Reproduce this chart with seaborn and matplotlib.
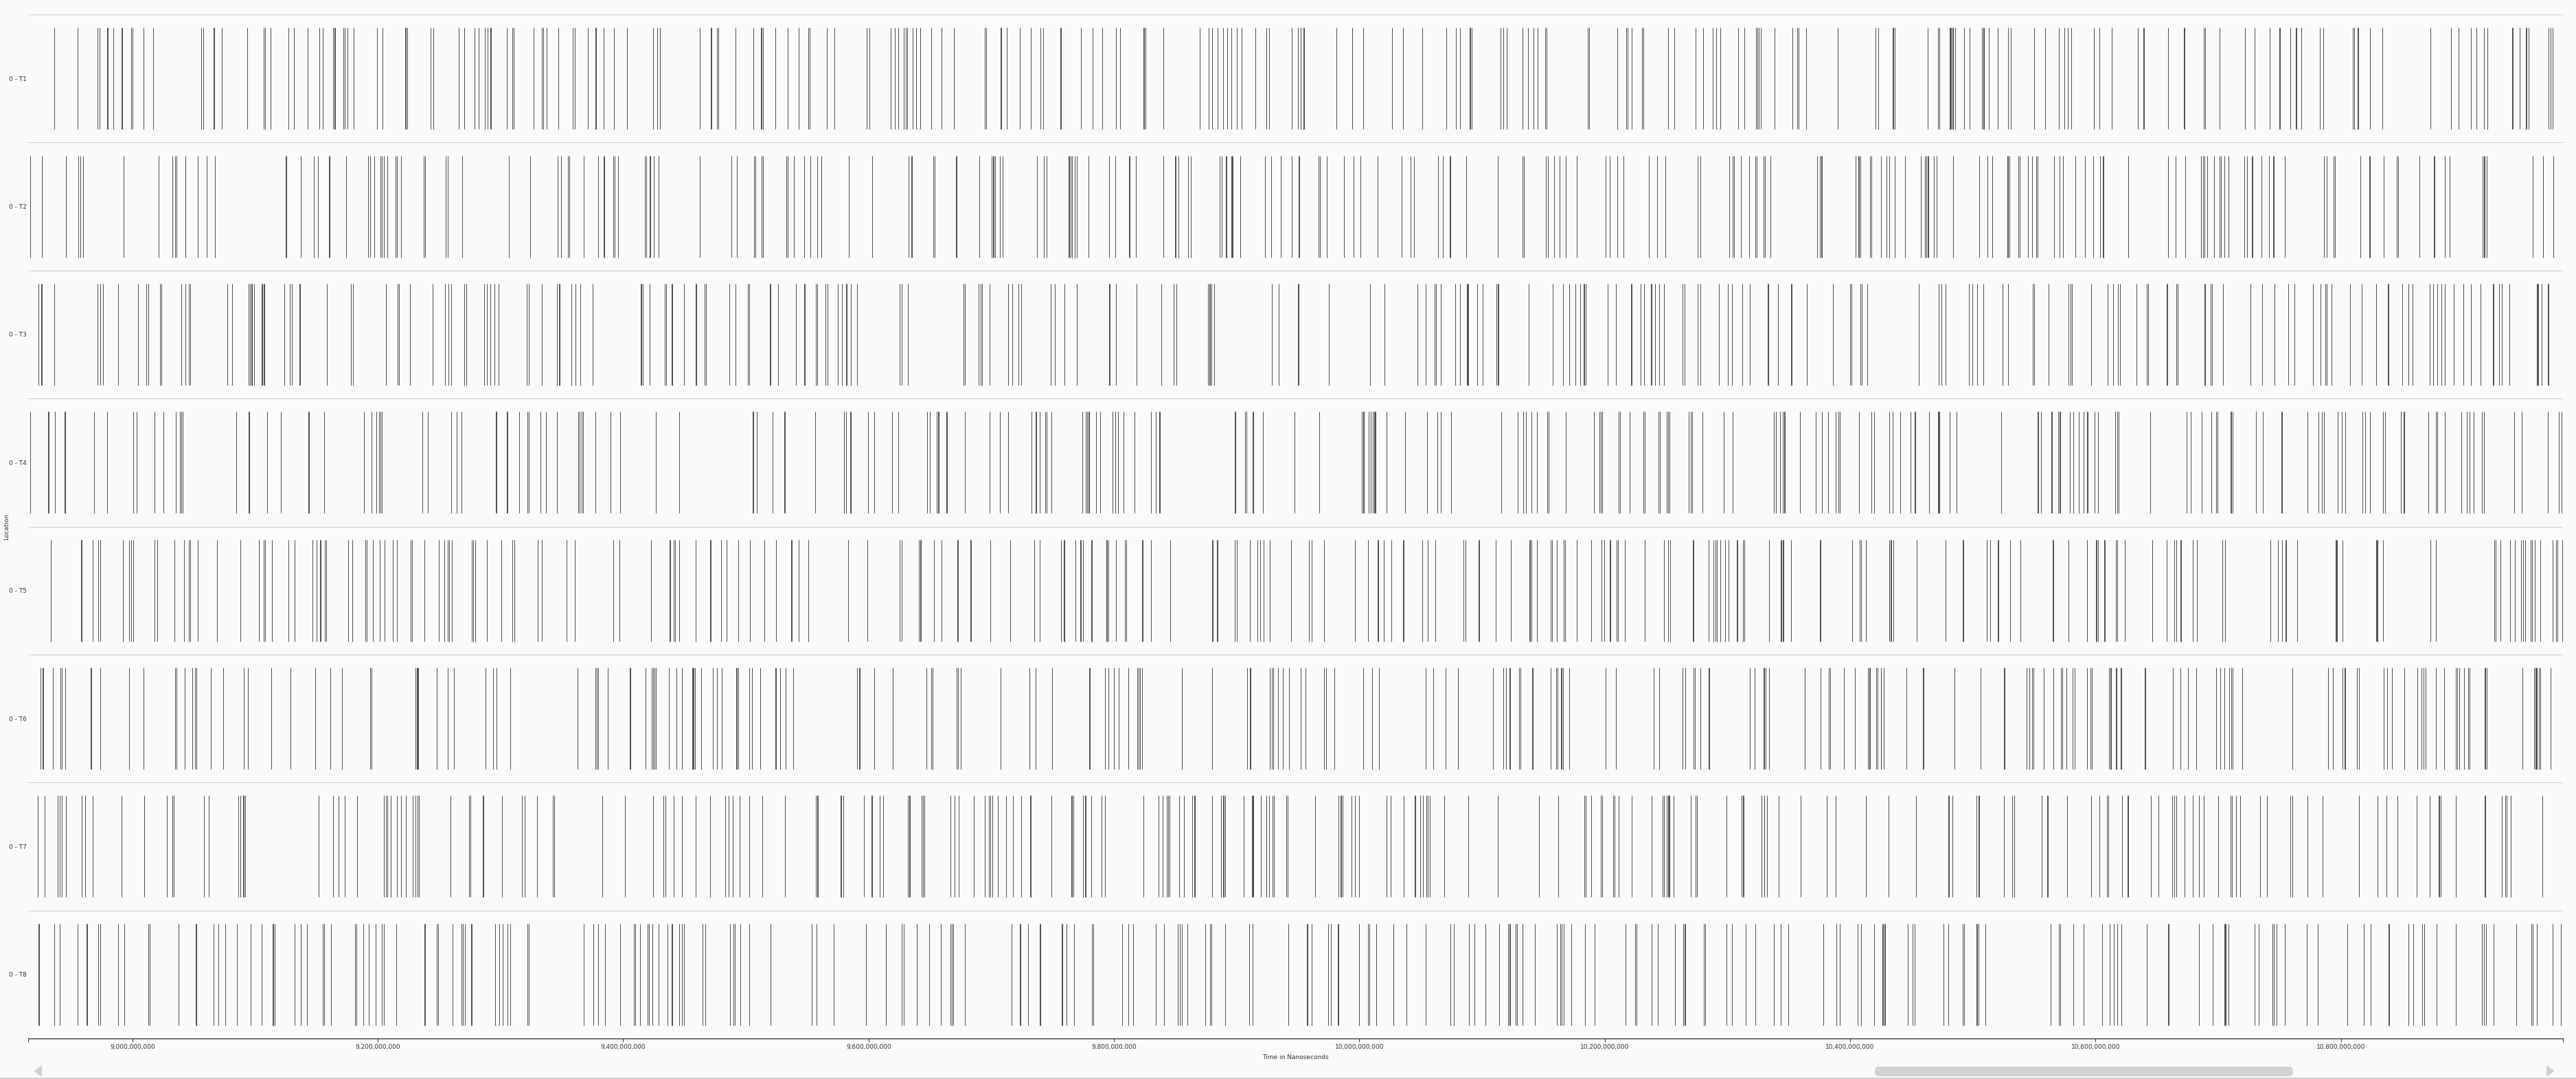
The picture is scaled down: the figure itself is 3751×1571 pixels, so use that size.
import numpy as np
import pandas as pd
import matplotlib
matplotlib.use("Agg")
import matplotlib.pyplot as plt
from matplotlib.patches import FancyBboxPatch, Polygon
from matplotlib.ticker import FuncFormatter
import seaborn as sns

# ---------------- data (event times, in millions of nanoseconds) ----------------
locations = ["0 - T1", "0 - T2", "0 - T3", "0 - T4", "0 - T5", "0 - T6", "0 - T7", "0 - T8"]

t1 = [
8936.5, 8955.5, 8971.8, 8973.2, 8979.4, 8980.2, 8984.5, 8991.1, 8991.9, 8999.0, 9000.0, 9008.8, 9017.0, 9056.2, 9058.0, 9066.1, 9066.9, 9073.0, 9093.8, 9107.1, 9107.9, 9112.8, 9127.2, 9131.8, 9143.0, 9152.5, 9155.2, 9163.6, 9164.4, 9165.2, 9171.8, 9172.8, 9175.5, 9180.5, 9199.5, 9204.0, 9222.2, 9223.0, 9223.8, 9243.2, 9245.0, 9265.8, 9270.5, 9279.0, 9282.0, 9287.2, 9289.5, 9291.6, 9292.4, 9305.2,
9309.5, 9311.0, 9326.8, 9333.9, 9334.7, 9337.5, 9347.0, 9358.8, 9360.8, 9371.0, 9377.1, 9377.9, 9384.0, 9392.2, 9403.0, 9424.2, 9427.5, 9429.8, 9462.2, 9471.4, 9472.2, 9476.5, 9477.8, 9491.5, 9506.0, 9512.1, 9512.9, 9513.8, 9524.0, 9534.0, 9543.0, 9551.1, 9551.9, 9566.0, 9572.0, 9598.5, 9600.5, 9618.0, 9621.5, 9624.0, 9628.8, 9630.6, 9631.4, 9635.8, 9638.5, 9642.0, 9651.0, 9659.5, 9669.5, 9694.9, 9695.7,
9707.4, 9708.2, 9712.5, 9723.2, 9732.2, 9740.0, 9742.2, 9756.1, 9756.9, 9773.2, 9782.5, 9790.5, 9801.8, 9804.8, 9823.9, 9824.7, 9825.5, 9840.0, 9870.0, 9877.2, 9879.8, 9884.5, 9888.8, 9892.5, 9895.5, 9900.0, 9904.2, 9915.2, 9924.2, 9926.2, 9944.8, 9950.0, 9952.2, 9954.4, 9955.2, 9981.5, 9994.2, 10003.2, 10026.8, 10035.8, 10051.5, 10071.0, 10078.8, 10081.8,
10089.7, 10090.5, 10091.3, 10115.2, 10117.5, 10120.2, 10133.2, 10137.2, 10141.8, 10145.5, 10151.2, 10152.8, 10186.4, 10187.2, 10210.5, 10217.6, 10218.4, 10221.8, 10230.6, 10231.4, 10251.5, 10256.5, 10274.2, 10280.0, 10287.8, 10290.8, 10294.0, 10309.0, 10314.0, 10323.2, 10324.6, 10325.4, 10327.2, 10338.2, 10352.8, 10357.1, 10357.9, 10364.0, 10389.8, 10420.5, 10422.8, 10434.7, 10435.5, 10436.3, 10463.0, 10471.9, 10472.7,
10481.0, 10481.7, 10482.5, 10483.2, 10484.2, 10485.8, 10492.8, 10497.2, 10507.5, 10508.6, 10509.4, 10513.0, 10520.2, 10528.8, 10530.8, 10550.0, 10559.0, 10570.0, 10574.8, 10577.5, 10580.0, 10598.5, 10603.0, 10613.2, 10634.5, 10638.8, 10639.8, 10659.0, 10671.9, 10672.7, 10688.0, 10689.2, 10701.0, 10721.8, 10729.8, 10742.0, 10749.6, 10750.4, 10758.8, 10763.1, 10763.9, 10767.8, 10782.8, 10785.5, 10809.5, 10811.0, 10813.4, 10814.2, 10823.8, 10833.8,
10873.2, 10889.5, 10895.8, 10905.8, 10910.2, 10916.5, 10919.2, 10939.6, 10940.4, 10946.0, 10950.6, 10951.4, 10953.0, 10969.2, 10970.8, 10972.5]

t2 = [
8916.8, 8926.2, 8946.0, 8956.0, 8957.8, 8960.0, 8993.0, 9021.5, 9032.8, 9034.9, 9035.7, 9043.2, 9053.0, 9060.8, 9067.0, 9124.9, 9125.7, 9137.2, 9148.0, 9151.0, 9160.0, 9160.8, 9174.0, 9191.8, 9194.0, 9197.0, 9202.4, 9203.2, 9204.8, 9208.0, 9214.5, 9215.8, 9219.0, 9237.2, 9238.8, 9255.5, 9257.2, 9268.5,
9306.8, 9324.0, 9346.5, 9349.2, 9355.1, 9355.9, 9367.8, 9379.5, 9383.9, 9384.7, 9391.8, 9392.8, 9395.8, 9417.9, 9418.7, 9421.5, 9422.2, 9425.2, 9429.0, 9462.2, 9488.0, 9492.5, 9506.9, 9507.7, 9512.8, 9514.2, 9533.1, 9533.9, 9539.0, 9547.5, 9552.5, 9558.0, 9561.5, 9583.8, 9602.8, 9632.5, 9634.6, 9635.4, 9652.8, 9653.8, 9671.1, 9671.9, 9690.5,
9700.4, 9701.2, 9702.1, 9702.9, 9707.0, 9709.0, 9737.2, 9743.0, 9745.0, 9762.9, 9763.7, 9764.8, 9765.8, 9768.0, 9769.8, 9779.2, 9796.0, 9801.0, 9812.1, 9812.9, 9818.0, 9840.2, 9849.6, 9850.4, 9852.5, 9860.5, 9862.8, 9886.2, 9887.8, 9891.1, 9891.9, 9895.5, 9896.2, 9897.0, 9903.0, 9923.2, 9928.2, 9936.0, 9945.0, 9950.4, 9951.2, 9966.5, 9967.8, 9973.5, 9987.5, 9995.5, 10000.8, 10015.0, 10034.5, 10042.0, 10044.5, 10064.2, 10068.2, 10073.6, 10074.4, 10087.2,
10113.0, 10133.1, 10133.9, 10152.2, 10153.5, 10158.5, 10163.0, 10168.0, 10177.0, 10201.0, 10204.2, 10210.5, 10215.0, 10235.8, 10242.5, 10249.2, 10276.0, 10278.2, 10301.2, 10304.4, 10305.2, 10310.8, 10317.8, 10322.9, 10323.7, 10329.2, 10330.5, 10335.0, 10373.0, 10375.5, 10376.3, 10377.1, 10404.2, 10406.7, 10407.5, 10408.3, 10416.5, 10417.5, 10425.0, 10429.8, 10431.8, 10436.2, 10444.8, 10457.8, 10460.8, 10462.2, 10463.0, 10463.8, 10468.2, 10470.5,
10484.2, 10505.0, 10512.2, 10515.8, 10528.2, 10529.0, 10529.8, 10537.4, 10538.2, 10544.8, 10548.2, 10551.8, 10552.8, 10566.0, 10570.5, 10573.5, 10583.5, 10591.2, 10598.0, 10603.8, 10605.9, 10606.7, 10626.8, 10659.0, 10665.2, 10673.0, 10686.0, 10687.9, 10688.7, 10691.0, 10696.8, 10701.2, 10702.2, 10705.0, 10708.2, 10721.2, 10723.5, 10727.4, 10728.2, 10735.2, 10741.5, 10744.6, 10745.4, 10754.2, 10786.2, 10788.2, 10794.1, 10794.9, 10816.0, 10823.1, 10823.9, 10835.0, 10845.5, 10846.5, 10864.0,
10875.5, 10876.2, 10884.5, 10888.5, 10915.6, 10916.4, 10917.2, 10919.0, 10956.2, 10964.5, 10973.0]

t3 = [
8923.5, 8925.4, 8926.2, 8936.5, 8971.8, 8973.8, 8976.0, 8988.5, 9004.8, 9011.0, 9013.0, 9022.6, 9023.4, 9040.0, 9043.2, 9046.2, 9047.2, 9077.5, 9081.0, 9094.9, 9095.7, 9096.9, 9097.7, 9099.2, 9105.2, 9106.1, 9106.9, 9107.7, 9124.0, 9128.0, 9130.0, 9136.1, 9136.9, 9158.5, 9177.8, 9180.0, 9206.5, 9216.0, 9217.2, 9226.0, 9244.5, 9254.8, 9257.8, 9260.0, 9270.5, 9272.0, 9286.5, 9289.0, 9291.8, 9295.2, 9298.2,
9321.2, 9323.2, 9333.5, 9346.0, 9347.4, 9348.2, 9357.5, 9361.2, 9364.8, 9375.0, 9414.1, 9414.9, 9416.2, 9421.5, 9434.1, 9434.9, 9439.4, 9440.2, 9449.5, 9458.8, 9459.5, 9466.5, 9467.5, 9486.5, 9491.5, 9501.8, 9503.0, 9519.4, 9520.2, 9526.2, 9540.8, 9547.4, 9548.2, 9557.2, 9558.0, 9565.0, 9566.5, 9574.8, 9578.2, 9581.4, 9582.2, 9585.5, 9590.5, 9625.5, 9627.0, 9632.0, 9677.5, 9678.5, 9689.8, 9691.4, 9692.2,
9698.8, 9713.8, 9717.2, 9722.2, 9724.2, 9748.5, 9751.8, 9759.8, 9769.8, 9795.9, 9796.7, 9801.8, 9818.5, 9838.8, 9848.8, 9850.8, 9876.5, 9877.5, 9878.4, 9879.2, 9881.8, 9928.8, 9934.2, 9949.9, 9950.7, 9975.2, 10008.8, 10020.5, 10047.5, 10054.2, 10061.4, 10062.2, 10066.2, 10078.2, 10082.2, 10087.4, 10088.1, 10088.8,
10096.2, 10100.8, 10111.5, 10112.6, 10113.4, 10138.2, 10157.5, 10165.8, 10170.8, 10176.2, 10180.2, 10182.9, 10183.6, 10184.5, 10202.2, 10209.0, 10221.5, 10222.2, 10229.0, 10231.8, 10237.4, 10238.2, 10240.8, 10244.2, 10248.5, 10263.2, 10265.0, 10275.5, 10277.8, 10293.0, 10300.2, 10303.5, 10312.0, 10318.2, 10332.6, 10333.4, 10341.0, 10351.6, 10352.4, 10364.5, 10385.8, 10400.1, 10400.9, 10408.6, 10409.4, 10414.2, 10455.8, 10472.0, 10474.2, 10478.0,
10496.8, 10499.5, 10503.5, 10508.5, 10524.0, 10528.5, 10548.8, 10549.8, 10561.8, 10578.0, 10579.9, 10580.7, 10596.2, 10609.8, 10614.2, 10618.2, 10619.8, 10633.2, 10642.0, 10642.8, 10657.9, 10658.7, 10666.1, 10666.9, 10688.6, 10689.4, 10694.1, 10694.9, 10704.0, 10726.2, 10735.8, 10746.0, 10757.0, 10762.0, 10777.0, 10783.5, 10787.2, 10788.5, 10792.2, 10807.5, 10816.8, 10828.5, 10838.1, 10838.9, 10850.0, 10855.0, 10858.5, 10872.2,
10875.2, 10878.5, 10882.2, 10884.8, 10891.8, 10899.8, 10906.0, 10913.8, 10923.9, 10924.7, 10929.2, 10931.0, 10937.2, 10959.5, 10960.3, 10961.1, 10963.5, 10968.6, 10969.4]

t4 = [
8916.8, 8931.1, 8931.9, 8937.0, 8944.6, 8945.4, 8968.5, 8979.5, 9000.8, 9003.5, 9017.8, 9025.5, 9035.5, 9038.5, 9039.9, 9040.7, 9084.8, 9094.4, 9095.2, 9110.0, 9121.2, 9143.1, 9143.9, 9156.2, 9188.5, 9194.8, 9199.0, 9201.1, 9201.9, 9203.0, 9236.2, 9241.0, 9260.0, 9264.5, 9268.0, 9296.0, 9297.0, 9304.9, 9305.7,
9315.0, 9322.1, 9322.9, 9332.5, 9336.8, 9345.8, 9363.2, 9364.2, 9366.4, 9367.2, 9377.2, 9389.5, 9397.5, 9426.5, 9445.5, 9505.4, 9506.2, 9508.8, 9521.8, 9531.1, 9531.9, 9556.5, 9580.0, 9581.8, 9584.9, 9585.7, 9599.5, 9604.5, 9619.0, 9624.2, 9647.8, 9650.0, 9655.8, 9656.4, 9657.2, 9663.4, 9664.2, 9678.5,
9698.8, 9707.0, 9713.8, 9732.8, 9736.1, 9736.9, 9739.5, 9744.0, 9745.2, 9748.8, 9774.2, 9777.0, 9778.2, 9779.1, 9779.9, 9785.5, 9788.8, 9798.8, 9801.2, 9803.5, 9807.8, 9816.8, 9830.2, 9834.2, 9836.9, 9837.7, 9898.4, 9899.2, 9906.9, 9907.7, 9912.9, 9913.7, 9921.5, 9947.2, 9967.5, 10002.2, 10003.0, 10003.8, 10007.8, 10009.2, 10011.0, 10011.9, 10012.7, 10013.4, 10022.2, 10037.5, 10055.2, 10063.5, 10066.5, 10074.8,
10115.5, 10128.8, 10133.8, 10135.8, 10140.5, 10145.0, 10153.4, 10154.2, 10168.5, 10191.0, 10195.8, 10196.8, 10198.0, 10211.6, 10212.4, 10220.5, 10231.6, 10232.4, 10243.9, 10244.7, 10250.5, 10251.8, 10253.0, 10268.5, 10270.0, 10271.0, 10279.5, 10296.8, 10304.5, 10337.8, 10339.8, 10342.8, 10345.2, 10346.0, 10346.8, 10359.0, 10372.2, 10377.0, 10382.0, 10388.5, 10390.6, 10391.4, 10407.0, 10417.2, 10419.5, 10431.8, 10434.5, 10441.0, 10449.0, 10452.4, 10453.2, 10464.2, 10471.6, 10472.4, 10473.0,
10481.2, 10486.5, 10523.0, 10552.6, 10553.4, 10555.8, 10563.9, 10564.7, 10569.8, 10570.5, 10571.2, 10579.0, 10581.8, 10586.2, 10590.5, 10592.9, 10593.7, 10599.2, 10602.0, 10616.0, 10617.9, 10618.7, 10644.5, 10674.2, 10677.5, 10686.5, 10694.5, 10698.5, 10699.5, 10710.1, 10710.9, 10712.0, 10730.8, 10736.2, 10751.4, 10752.2, 10772.8, 10781.8, 10784.5, 10786.0, 10797.5, 10800.8, 10803.5, 10817.8, 10820.0, 10823.8, 10834.5, 10835.8, 10849.0, 10851.1, 10851.9, 10871.5,
10877.6, 10878.4, 10885.0, 10898.0, 10902.5, 10905.0, 10908.0, 10915.2, 10916.5, 10941.5, 10947.2, 10968.5, 10977.5, 10979.8]

t5 = [
8933.5, 8958.1, 8958.9, 8967.8, 8972.2, 8974.0, 8992.5, 8997.2, 8998.8, 9000.8, 9018.2, 9020.0, 9034.5, 9042.2, 9046.1, 9046.9, 9053.0, 9069.2, 9088.2, 9103.2, 9107.1, 9107.9, 9113.5, 9127.2, 9132.0, 9147.0, 9150.2, 9152.9, 9153.7, 9156.9, 9157.7, 9176.0, 9179.2, 9189.9, 9190.7, 9196.0, 9201.5, 9205.5, 9212.5, 9215.5, 9226.8, 9227.8, 9238.2, 9249.8, 9254.0, 9257.1, 9257.9, 9260.2, 9276.5, 9277.8, 9279.2, 9288.8, 9300.8,
9309.5, 9311.5, 9330.2, 9333.5, 9353.8, 9360.5, 9391.8, 9396.8, 9422.5, 9437.6, 9438.4, 9441.2, 9442.2, 9445.5, 9459.0, 9470.6, 9471.4, 9479.8, 9484.2, 9493.8, 9503.2, 9515.0, 9524.5, 9536.6, 9537.4, 9543.0, 9550.8, 9583.2, 9599.0, 9625.5, 9626.8, 9641.2, 9642.0, 9642.8, 9653.2, 9659.5, 9672.1, 9672.9, 9682.9, 9683.7,
9699.2, 9715.5, 9735.0, 9739.5, 9757.0, 9758.9, 9759.7, 9768.8, 9772.4, 9773.2, 9774.8, 9781.4, 9782.2, 9793.6, 9794.4, 9795.2, 9801.8, 9808.8, 9810.0, 9822.9, 9823.7, 9830.2, 9846.0, 9879.8, 9880.8, 9883.9, 9884.7, 9898.5, 9900.0, 9911.0, 9917.0, 9919.0, 9922.0, 9927.0, 9944.5, 9959.0, 9961.2, 9971.5, 9996.5, 10007.2, 10014.9, 10015.7, 10020.2, 10026.2, 10035.6, 10036.4, 10051.5, 10055.5, 10062.0, 10085.0, 10086.8,
10096.9, 10097.7, 10111.0, 10123.2, 10138.5, 10139.4, 10140.2, 10145.0, 10156.1, 10156.9, 10161.2, 10166.5, 10167.5, 10177.0, 10188.8, 10197.2, 10199.5, 10204.1, 10204.9, 10209.9, 10210.7, 10216.2, 10232.5, 10248.5, 10251.5, 10253.2, 10271.6, 10272.4, 10284.5, 10288.5, 10290.4, 10291.2, 10294.2, 10298.2, 10300.8, 10307.4, 10308.2, 10312.9, 10313.7, 10333.8, 10343.2, 10344.1, 10344.9, 10345.6, 10351.8, 10375.1, 10375.9, 10401.5, 10408.1, 10408.9, 10412.8, 10432.0, 10432.8, 10433.6, 10435.2, 10454.2, 10477.8,
10491.6, 10492.4, 10511.2, 10514.0, 10520.1, 10520.9, 10530.2, 10538.8, 10564.9, 10565.7, 10578.0, 10593.0, 10600.1, 10600.9, 10602.2, 10606.9, 10607.7, 10616.5, 10618.0, 10623.8, 10646.2, 10658.0, 10664.2, 10666.0, 10669.1, 10669.9, 10679.2, 10682.5, 10703.2, 10705.5, 10742.5, 10748.8, 10751.8, 10754.9, 10755.7, 10764.2, 10795.5, 10796.3, 10797.1, 10801.2, 10828.5, 10829.3, 10830.1, 10834.2,
10873.2, 10877.2, 10924.8, 10926.0, 10929.8, 10937.8, 10942.0, 10947.0, 10948.8, 10950.2, 10954.9, 10955.7, 10957.8, 10962.8, 10972.5, 10975.6, 10976.4, 10980.5]

t6 = [
8924.8, 8926.6, 8927.4, 8935.2, 8941.4, 8942.2, 8945.2, 8965.9, 8966.7, 8974.0, 8997.5, 9009.2, 9035.0, 9036.0, 9042.8, 9048.5, 9051.1, 9051.9, 9064.0, 9074.2, 9090.5, 9094.2, 9113.2, 9129.0, 9148.8, 9161.5, 9171.0, 9193.8, 9195.0, 9230.9, 9231.7, 9232.4, 9233.2, 9248.2, 9257.2, 9261.8, 9288.0, 9294.0, 9297.0,
9307.8, 9362.8, 9377.6, 9378.4, 9379.8, 9387.2, 9405.1, 9405.9, 9418.0, 9423.0, 9424.2, 9425.5, 9426.8, 9437.0, 9443.2, 9447.8, 9456.1, 9456.9, 9457.6, 9458.4, 9463.5, 9472.8, 9476.2, 9480.2, 9491.9, 9492.7, 9494.0, 9502.8, 9504.8, 9511.8, 9523.9, 9524.7, 9528.0, 9532.2, 9538.5, 9590.8, 9592.1, 9592.9, 9604.5, 9619.8, 9647.2, 9651.1, 9651.9, 9671.9, 9672.7, 9675.0,
9707.5, 9731.0, 9736.2, 9749.5, 9779.6, 9780.4, 9792.8, 9795.5, 9800.0, 9804.0, 9811.8, 9819.0, 9820.0, 9821.2, 9823.0, 9855.5, 9880.0, 9908.8, 9910.6, 9911.4, 9927.2, 9928.9, 9929.7, 9934.0, 9937.8, 9942.8, 9952.0, 9956.2, 9971.0, 9973.0, 9979.8, 10003.2, 10010.5, 10016.2, 10054.2, 10060.0, 10070.5, 10080.5,
10109.2, 10117.5, 10119.8, 10122.1, 10122.9, 10130.4, 10131.2, 10140.6, 10141.4, 10156.2, 10160.6, 10161.4, 10164.2, 10165.1, 10165.9, 10171.2, 10200.5, 10209.0, 10239.8, 10244.2, 10263.2, 10265.5, 10272.6, 10273.4, 10278.2, 10284.5, 10285.5, 10318.0, 10322.0, 10329.5, 10330.3, 10331.1, 10333.8, 10363.0, 10376.2, 10382.9, 10383.7, 10395.2, 10403.8, 10414.7, 10415.5, 10416.3, 10421.2, 10422.5, 10425.0, 10427.2, 10445.8, 10459.1, 10459.9,
10485.0, 10506.2, 10525.1, 10525.9, 10543.8, 10546.0, 10548.6, 10549.4, 10557.8, 10565.5, 10572.1, 10572.9, 10576.2, 10581.2, 10582.8, 10593.0, 10596.1, 10596.9, 10611.2, 10612.0, 10612.8, 10616.4, 10617.2, 10620.4, 10621.2, 10639.9, 10640.7, 10663.0, 10669.2, 10675.5, 10682.0, 10698.2, 10701.8, 10705.0, 10709.2, 10710.9, 10711.7, 10719.5, 10760.2, 10789.5, 10793.5, 10801.5, 10802.9, 10803.7, 10813.2, 10814.8, 10835.0, 10837.8, 10841.5, 10851.8, 10862.2, 10865.8, 10867.2, 10869.0,
10877.5, 10884.2, 10893.5, 10895.0, 10896.5, 10900.2, 10903.9, 10904.7, 10917.2, 10918.0, 10918.8, 10947.8, 10957.6, 10958.4, 10958.9, 10959.7, 10961.6, 10962.4, 10971.2]

t7 = [
8923.0, 8928.5, 8939.2, 8940.8, 8942.5, 8946.0, 8958.8, 8961.5, 8967.8, 8991.2, 9009.8, 9027.8, 9032.6, 9033.4, 9058.5, 9062.0, 9086.2, 9087.8, 9090.0, 9090.9, 9091.7, 9151.5, 9163.8, 9168.2, 9172.8, 9183.2, 9205.0, 9206.9, 9207.7, 9210.8, 9215.5, 9219.2, 9222.8, 9228.2, 9230.8, 9232.6, 9233.4, 9259.5, 9274.6, 9275.4, 9285.4, 9286.2, 9301.2,
9317.2, 9319.5, 9329.5, 9342.9, 9343.7, 9382.8, 9401.2, 9424.2, 9432.8, 9434.2, 9441.0, 9447.8, 9459.0, 9470.8, 9483.0, 9486.0, 9489.2, 9494.8, 9502.8, 9513.2, 9531.8, 9557.2, 9558.0, 9558.8, 9577.1, 9577.9, 9579.5, 9596.2, 9602.4, 9603.2, 9609.0, 9612.0, 9632.0, 9632.9, 9633.7, 9643.5, 9644.4, 9645.2, 9666.8, 9670.2, 9673.5, 9685.5, 9694.8,
9697.8, 9699.0, 9700.8, 9705.5, 9711.8, 9717.8, 9724.5, 9731.6, 9732.4, 9748.8, 9765.1, 9765.9, 9766.8, 9774.5, 9776.2, 9777.0, 9781.5, 9790.0, 9792.5, 9823.8, 9836.5, 9839.5, 9843.0, 9844.2, 9845.5, 9853.2, 9857.0, 9864.0, 9865.4, 9866.2, 9879.8, 9887.5, 9888.9, 9889.7, 9890.5, 9905.8, 9912.2, 9912.9, 9913.7, 9919.8, 9924.2, 9926.2, 9929.4, 9930.2, 9940.6, 9941.4, 9964.0, 9983.0, 9984.7, 9985.5, 9986.3, 9993.8, 9996.5, 10000.0, 10022.2, 10025.8, 10036.2, 10045.1, 10045.9, 10049.8, 10051.8, 10054.5, 10055.8, 10057.5, 10069.2, 10088.8,
10113.0, 10146.2, 10162.2, 10183.6, 10184.4, 10188.8, 10196.8, 10197.8, 10206.8, 10208.2, 10211.5, 10222.2, 10238.0, 10247.4, 10248.2, 10250.7, 10251.5, 10252.3, 10253.0, 10256.2, 10270.0, 10274.2, 10275.2, 10299.5, 10311.7, 10312.5, 10313.3, 10328.0, 10330.0, 10332.5, 10341.5, 10359.5, 10380.8, 10388.0, 10412.8, 10431.2, 10453.5, 10479.9, 10480.7,
10483.2, 10502.8, 10504.6, 10505.4, 10525.2, 10532.0, 10533.8, 10556.0, 10560.4, 10561.2, 10576.8, 10596.2, 10603.0, 10609.6, 10610.4, 10621.5, 10625.9, 10626.7, 10645.0, 10651.2, 10662.5, 10664.0, 10666.0, 10672.5, 10679.2, 10684.5, 10688.5, 10700.0, 10710.2, 10711.2, 10714.5, 10718.2, 10734.0, 10739.8, 10758.8, 10760.2, 10772.8, 10785.0, 10814.8, 10830.0, 10837.2, 10846.0, 10861.8, 10872.2,
10879.7, 10880.5, 10881.3, 10893.8, 10917.2, 10918.0, 10931.2, 10934.1, 10934.9, 10938.2, 10964.0]

t8 = [
8923.4, 8924.2, 8936.5, 8941.0, 8955.5, 8962.6, 8963.4, 8972.2, 8974.0, 8988.5, 8993.5, 9013.2, 9014.0, 9037.8, 9051.6, 9052.4, 9066.2, 9069.8, 9075.8, 9085.2, 9096.5, 9105.5, 9114.5, 9115.1, 9115.9, 9132.0, 9137.0, 9142.2, 9155.0, 9156.0, 9162.0, 9181.2, 9182.5, 9188.0, 9192.8, 9198.0, 9203.2, 9205.2, 9214.8, 9238.0, 9238.8, 9248.1, 9248.9, 9260.8, 9268.2, 9269.5, 9270.8, 9275.9, 9276.7, 9295.8, 9298.8, 9301.8,
9305.8, 9308.2, 9322.1, 9322.9, 9367.8, 9375.5, 9379.5, 9385.0, 9397.5, 9408.9, 9409.7, 9413.5, 9420.1, 9420.9, 9424.0, 9429.0, 9436.0, 9439.4, 9440.2, 9445.8, 9447.8, 9449.8, 9464.5, 9466.8, 9487.0, 9489.8, 9491.0, 9495.5, 9502.8, 9519.8, 9553.5, 9557.5, 9571.5, 9598.0, 9614.0, 9627.2, 9628.8, 9639.2, 9649.5, 9658.8, 9666.8, 9668.1, 9668.9, 9678.5,
9716.5, 9723.1, 9723.9, 9730.0, 9739.4, 9740.2, 9757.5, 9758.2, 9761.2, 9767.5, 9782.1, 9782.9, 9806.8, 9811.8, 9815.8, 9834.2, 9840.8, 9852.0, 9853.8, 9855.5, 9860.0, 9874.5, 9878.4, 9879.2, 9890.8, 9910.2, 9913.0, 9942.2, 9957.1, 9957.9, 9961.0, 9974.5, 9976.8, 9982.2, 9983.0, 10000.0, 10007.1, 10007.9, 10013.5, 10027.5, 10038.5, 10054.2, 10074.0, 10077.2,
10089.2, 10094.0, 10103.0, 10113.8, 10121.5, 10122.1, 10122.9, 10127.6, 10128.4, 10132.8, 10142.8, 10161.0, 10163.9, 10164.7, 10166.8, 10173.0, 10183.8, 10191.5, 10217.2, 10224.9, 10225.7, 10238.0, 10243.5, 10257.0, 10264.0, 10264.9, 10265.7, 10281.0, 10282.0, 10299.0, 10303.5, 10315.0, 10323.0, 10337.8, 10343.2, 10349.5, 10378.0, 10389.0, 10391.5, 10406.0, 10408.8, 10419.5, 10426.2, 10427.0, 10427.8, 10428.6, 10447.0, 10450.8, 10452.8, 10476.0, 10479.8,
10492.0, 10492.8, 10502.8, 10503.6, 10504.4, 10510.2, 10563.5, 10570.0, 10571.2, 10581.8, 10590.2, 10605.2, 10611.5, 10615.0, 10617.5, 10621.0, 10641.8, 10658.9, 10659.7, 10684.2, 10695.5, 10704.8, 10705.4, 10706.2, 10708.2, 10729.8, 10733.2, 10744.0, 10745.2, 10747.5, 10754.2, 10772.2, 10781.2, 10805.0, 10818.5, 10824.2, 10838.6, 10839.4, 10855.0, 10858.8, 10866.0, 10867.8,
10877.8, 10893.5, 10914.8, 10916.8, 10918.5, 10924.2, 10943.2, 10955.4, 10956.2, 10959.5, 10972.5, 10979.2]

x_ticks = [9.0e9, 9.2e9, 9.4e9, 9.6e9, 9.8e9, 10.0e9, 10.2e9, 10.4e9, 10.6e9, 10.8e9]
x_min, x_max = 8.915e9, 10.981e9
x_label = "Time in Nanoseconds"
y_label = "Location"

# ---------------- styling ----------------
sns.set_theme(style="white")
plt.rcParams["font.family"] = ["DejaVu Sans"]

W, H = 3751, 1571
DPI = 100
PT = 72.0 / DPI  # points per pixel
BG = "#fafafa"
LINE = "#525252"
SEP = "#cfcfcf"
TXT = "#333333"

fig = plt.figure(figsize=(W / DPI, H / DPI), dpi=DPI, facecolor=BG)
ax_left, ax_right, ax_top, ax_bot = 41, 3732, 21, 1512
ax = fig.add_axes([ax_left / W, 1 - ax_bot / H, (ax_right - ax_left) / W, (ax_bot - ax_top) / H])
ax.set_facecolor(BG)

rows = []
for i, (loc, vals) in enumerate(zip(locations, [t1, t2, t3, t4, t5, t6, t7, t8])):
    for v in vals:
        rows.append((loc, i, v * 1e6))
df = pd.DataFrame(rows, columns=["Location", "Row", "Time"])

tick_len_px = 148
sns.scatterplot(data=df, x="Time", y="Row", marker="|", s=(tick_len_px * PT) ** 2,
                linewidth=1.0 * PT, color=LINE, ax=ax, legend=False, zorder=3,
                antialiased=False)

ax.set_xlim(x_min, x_max)
ax.set_ylim(len(locations) - 0.5, -0.5)

# row separators
ax.hlines(np.arange(-0.5, len(locations) - 0.5, 1.0), x_min, x_max, colors=SEP,
          linewidth=1.2 * PT, zorder=1)

for s in ["left", "right", "top"]:
    ax.spines[s].set_visible(False)
ax.spines["bottom"].set_color("#222222")
ax.spines["bottom"].set_linewidth(1.2 * PT)

ax.set_xticks(x_ticks)
ax.set_xticks([x_min, x_max], minor=True)
ax.xaxis.set_major_formatter(FuncFormatter(lambda v, p: f"{v:,.0f}"))
ax.tick_params(axis="x", which="both", bottom=True, direction="out", length=5 * PT,
               width=1.0 * PT, color="#333333", labelsize=6.5, labelcolor=TXT, pad=2.5)
ax.set_yticks(range(len(locations)))
ax.set_yticklabels(locations)
ax.tick_params(axis="y", left=False, length=0, labelsize=6.5, labelcolor=TXT, pad=2 * PT)
ax.set_xlabel("")
ax.set_ylabel("")
ax.grid(False)

fig.text(((ax_left + ax_right) / 2) / W, 1 - 1540 / H, x_label, ha="center", va="center",
         fontsize=6.5, color=TXT)
fig.text(10 / W, 1 - ((ax_top + ax_bot) / 2) / H, y_label, rotation=90, ha="center",
         va="center", fontsize=6.5, color=TXT)

# scrollbar decoration (pixel coordinates)
ov = fig.add_axes([0, 0, 1, 1], zorder=-1)
ov.set_xlim(0, W)
ov.set_ylim(H, 0)
ov.axis("off")
ov.add_patch(FancyBboxPatch((2730, 1553), 609, 14, boxstyle="round,pad=0,rounding_size=6",
                            fc="#d3d3d3", ec="none"))
ov.add_patch(Polygon([(61, 1551), (61, 1568), (49, 1559.5)], closed=True, fc="#d0d0d0", ec="none"))
ov.add_patch(Polygon([(3708, 1551), (3708, 1568), (3720, 1559.5)], closed=True, fc="#d0d0d0", ec="none"))
ov.plot([0, W], [1570, 1570], color="#c4c4c4", lw=1.5 * PT)

fig.savefig("out.png", dpi=DPI, facecolor=BG)
